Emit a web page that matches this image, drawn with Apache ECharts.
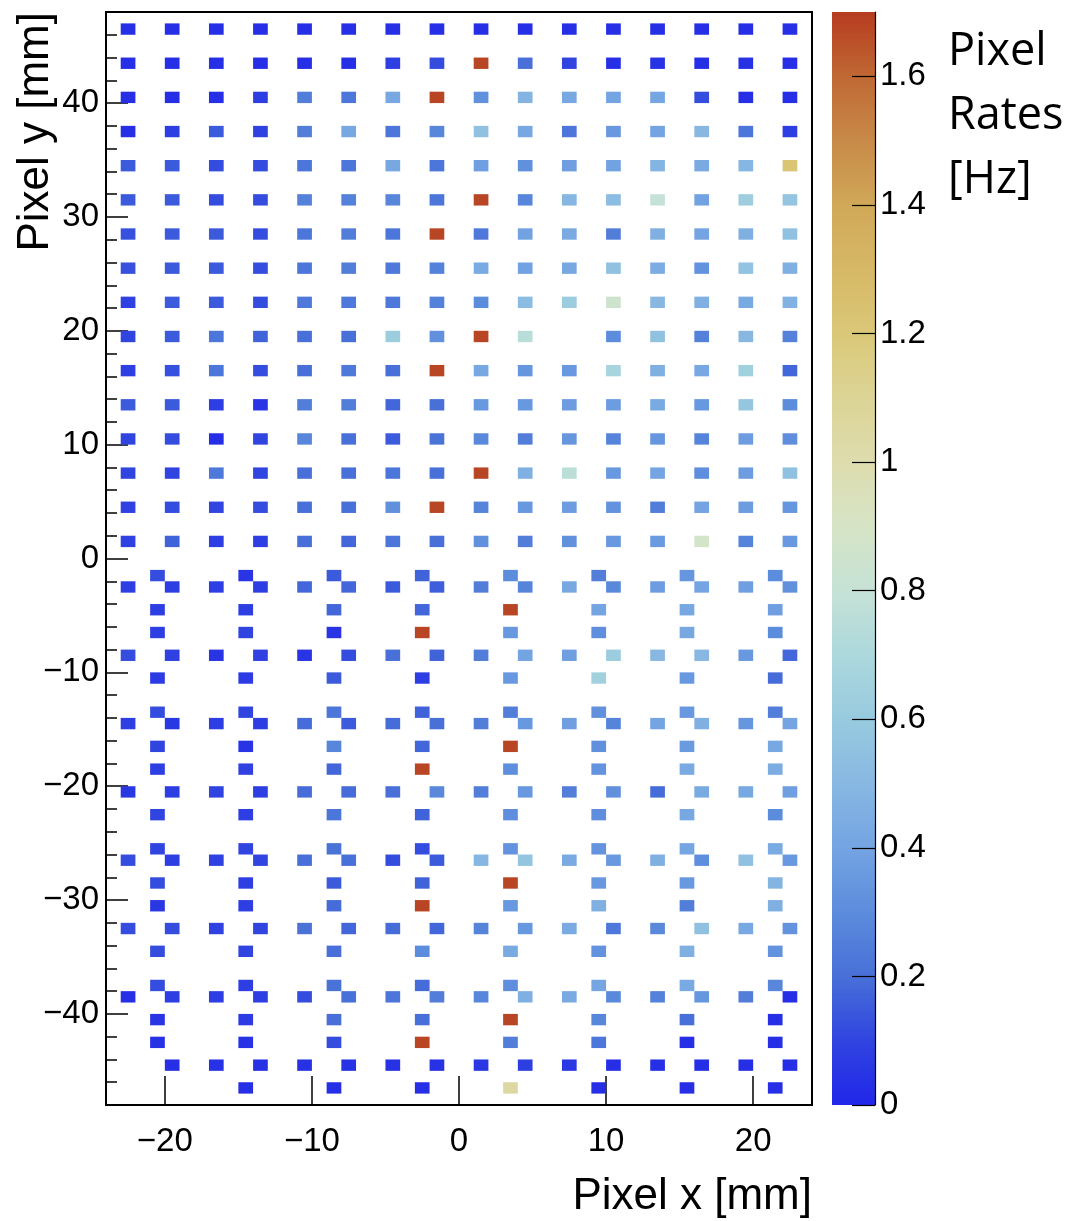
<!DOCTYPE html>
<html>
<head>
<meta charset="utf-8">
<title>Pixel Rates</title>
<script src="https://cdn.jsdelivr.net/npm/echarts@6/dist/echarts.min.js"></script>
<style>
  html, body { margin: 0; padding: 0; background: #ffffff; }
  #chart { width: 1072px; height: 1221px; }
</style>
</head>
<body>
<div id="chart"></div>
<script>
// ---- Pixel centres [mm] ----
// Upper half: regular 3 mm pitch grid
const colsTop = [-22.5, -19.5, -16.5, -13.5, -10.5, -7.5, -4.5, -1.5, 1.5, 4.5, 7.5, 10.5, 13.5, 16.5, 19.5, 22.5];
const rowsTop = [46.5, 43.5, 40.5, 37.5, 34.5, 31.5, 28.5, 25.5, 22.5, 19.5, 16.5, 13.5, 10.5, 7.5, 4.5, 1.5];

// Lower half: two row layouts (A = sparse 6 mm pitch, B = full 3 mm pitch)
const colsA = [-20.5, -14.5, -8.5, -2.5, 3.5, 9.5, 15.5, 21.5];
const colsB = [-22.5, -19.5, -16.5, -13.5, -10.5, -7.5, -4.5, -1.5, 1.5, 4.5, 7.5, 10.5, 13.5, 16.5, 19.5, 22.5];
const rowsBottom = [-1.5, -2.5, -4.5, -6.5, -8.5, -10.5,
                    -13.5, -14.5, -16.5, -18.5, -20.5, -22.5,
                    -25.5, -26.5, -28.5, -30.5, -32.5, -34.5,
                    -37.5, -38.5, -40.5, -42.5, -44.5, -46.5];
const rowLayoutBottom = ['A', 'B', 'A', 'A', 'B', 'A',
                         'A', 'B', 'A', 'A', 'B', 'A',
                         'A', 'B', 'A', 'A', 'B', 'A',
                         'A', 'B', 'A', 'A', 'B', 'A'];

// ---- Pixel rates [Hz] (null = no entry) ----
const ratesTop = [
  [0.03, 0.03, 0.03, 0.03, 0.03, 0.03, 0.03, 0.03, 0.03, 0.03, 0.03, 0.03, 0.03, 0.03, 0.03, 0.03],
  [0.03, 0.03, 0.03, 0.03, 0.03, 0.03, 0.08, 0.12, 1.68, 0.20, 0.10, 0.03, 0.04, 0.03, 0.04, 0.03],
  [0.03, 0.03, 0.03, 0.08, 0.25, 0.22, 0.42, 1.68, 0.32, 0.48, 0.42, 0.40, 0.41, 0.12, 0.03, 0.03],
  [0.03, 0.08, 0.15, 0.09, 0.25, 0.42, 0.22, 0.28, 0.55, 0.42, 0.22, 0.35, 0.40, 0.50, 0.22, 0.08],
  [0.15, 0.15, 0.12, 0.12, 0.22, 0.22, 0.42, 0.22, 0.38, 0.32, 0.38, 0.39, 0.48, 0.43, 0.49, 1.22],
  [0.15, 0.15, 0.12, 0.12, 0.26, 0.26, 0.28, 0.22, 1.68, 0.28, 0.49, 0.52, 0.80, 0.39, 0.63, 0.57],
  [0.13, 0.15, 0.15, 0.12, 0.22, 0.25, 0.22, 1.68, 0.23, 0.39, 0.43, 0.25, 0.46, 0.40, 0.46, 0.55],
  [0.13, 0.15, 0.15, 0.12, 0.22, 0.25, 0.23, 0.26, 0.43, 0.39, 0.42, 0.55, 0.44, 0.33, 0.56, 0.46],
  [0.09, 0.15, 0.15, 0.12, 0.23, 0.23, 0.23, 0.26, 0.30, 0.52, 0.62, 0.85, 0.50, 0.46, 0.43, 0.47],
  [0.10, 0.15, 0.22, 0.17, 0.20, 0.20, 0.62, 0.32, 1.68, 0.75, null, 0.30, 0.55, 0.26, 0.50, 0.26],
  [0.08, 0.13, 0.22, 0.12, 0.20, 0.23, 0.20, 1.68, 0.42, 0.34, 0.35, 0.68, 0.46, 0.42, 0.65, 0.18],
  [0.15, 0.15, 0.08, 0.05, 0.25, 0.25, 0.18, 0.20, 0.35, 0.35, 0.37, 0.37, 0.43, 0.35, 0.58, 0.30],
  [0.10, 0.12, 0.03, 0.10, 0.28, 0.20, 0.15, 0.21, 0.29, 0.25, 0.34, 0.27, 0.34, 0.27, 0.37, 0.31],
  [0.10, 0.10, 0.23, 0.10, 0.20, 0.20, 0.22, 0.20, 1.68, 0.46, 0.76, 0.35, 0.40, 0.31, 0.37, 0.55],
  [0.09, 0.12, 0.10, 0.12, 0.20, 0.20, 0.32, 1.68, 0.27, 0.35, 0.37, 0.33, 0.25, 0.40, 0.37, 0.34],
  [0.09, 0.17, 0.08, 0.08, 0.20, 0.18, 0.22, 0.20, 0.32, 0.25, 0.32, 0.35, 0.36, 0.88, 0.27, 0.35]
];

const ratesBottom = [
  [0.12, 0.05, 0.15, 0.17, 0.30, 0.25, 0.34, 0.30],
  [0.08, 0.08, 0.08, 0.08, 0.18, 0.18, 0.15, 0.16, 0.25, 0.27, 0.42, 0.29, 0.37, 0.40, 0.38, 0.32],
  [0.08, 0.08, 0.18, 0.18, 1.68, 0.40, 0.42, 0.38],
  [0.08, 0.10, 0.05, 1.68, 0.35, 0.31, 0.42, 0.30],
  [0.12, 0.09, 0.05, 0.09, 0.05, 0.12, 0.20, 0.17, 0.25, 0.40, 0.38, 0.62, 0.50, 0.50, 0.35, 0.18],
  [0.07, 0.07, 0.15, 0.08, 0.35, 0.65, 0.35, 0.19],
  [0.12, 0.10, 0.22, 0.17, 0.25, 0.32, 0.35, 0.25],
  [0.08, 0.06, 0.08, 0.08, 0.19, 0.15, 0.19, 0.20, 0.25, 0.35, 0.38, 0.27, 0.40, 0.46, 0.34, 0.40],
  [0.10, 0.05, 0.28, 0.18, 1.68, 0.32, 0.36, 0.42],
  [0.08, 0.09, 0.18, 1.68, 0.31, 0.33, 0.43, 0.44],
  [0.06, 0.08, 0.10, 0.08, 0.19, 0.19, 0.20, 0.29, 0.25, 0.35, 0.25, 0.32, 0.19, 0.43, 0.42, 0.38],
  [0.10, 0.08, 0.22, 0.17, 0.31, 0.31, 0.42, 0.30],
  [0.10, 0.10, 0.21, 0.12, 0.33, 0.33, 0.41, 0.43],
  [0.12, 0.08, 0.09, 0.10, 0.20, 0.20, 0.12, 0.15, 0.49, 0.57, 0.43, 0.35, 0.46, 0.31, 0.55, 0.35],
  [0.12, 0.08, 0.15, 0.17, 1.68, 0.35, 0.35, 0.48],
  [0.06, 0.08, 0.19, 1.68, 0.35, 0.46, 0.25, 0.46],
  [0.12, 0.12, 0.09, 0.10, 0.21, 0.18, 0.19, 0.18, 0.27, 0.35, 0.43, 0.23, 0.29, 0.55, 0.42, 0.33],
  [0.12, 0.10, 0.20, 0.30, 0.43, 0.33, 0.46, 0.33],
  [0.12, 0.08, 0.21, 0.19, 0.31, 0.41, 0.43, 0.28],
  [0.03, 0.08, 0.08, 0.08, 0.12, 0.20, 0.22, 0.25, 0.28, 0.46, 0.43, 0.29, 0.26, 0.34, 0.25, 0.03],
  [0.05, 0.07, 0.20, 0.20, 1.68, 0.28, 0.20, 0.03],
  [0.04, 0.04, 0.12, 1.68, 0.25, 0.22, 0.03, 0.03],
  [null, 0.03, 0.04, 0.04, 0.04, 0.04, 0.04, 0.04, 0.06, 0.08, 0.06, 0.03, 0.03, 0.03, 0.03, 0.03],
  [null, 0.03, 0.03, 0.03, 1.05, 0.03, 0.03, 0.03]
];

// ---- Axis ticks ----
const xTicks = [-20, -10, 0, 10, 20];
const yTicks = [-40, -30, -20, -10, 0, 10, 20, 30, 40];
const yMinorTicks = [-46, -44, -42, -38, -36, -34, -32, -28, -26, -24, -22, -18, -16, -14, -12, -8, -6, -4, -2,
                     2, 4, 6, 8, 12, 14, 16, 18, 22, 24, 26, 28, 32, 34, 36, 38, 42, 44, 46];
const rateTicks = [0, 0.2, 0.4, 0.6, 0.8, 1, 1.2, 1.4, 1.6];

// ---- Colour scale (0 .. RATE_MAX in equal steps of 0.1 Hz) ----
const RATE_MAX = 1.7;
const palette = ['#2126e9', '#3044e0', '#4870d8', '#5c8cdc', '#74a4e2', '#88b8e2',
                 '#98cadf', '#acd8dc', '#c6e2d6', '#d6e4c6', '#dedcae', '#dcd496',
                 '#dac878', '#d6b866', '#d0a858', '#c88a48', '#c06834', '#b63c20'];

const BIN_HALF = 0.5;   // pixel bins are 1 mm wide
const FONT = '"Liberation Sans", Arial, Helvetica, sans-serif';
const minusSign = v => String(v).replace('-', '\u2212');

// Flatten the pixel tables into [x, y, rate] triples
const pixels = [];
rowsTop.forEach((y, r) => {
  colsTop.forEach((x, c) => {
    const v = ratesTop[r][c];
    if (v != null) pixels.push([x, y, v]);
  });
});
rowsBottom.forEach((y, r) => {
  const cols = rowLayoutBottom[r] === 'A' ? colsA : colsB;
  cols.forEach((x, c) => {
    const v = ratesBottom[r][c];
    if (v != null) pixels.push([x, y, v]);
  });
});

const tickLine = { color: '#000', width: 1.5 };
const labelStyle = { color: '#000', fontSize: 33, fontFamily: FONT };

const chart = echarts.init(document.getElementById('chart'), null, { renderer: 'canvas' });

chart.setOption({
  animation: false,
  backgroundColor: '#ffffff',
  grid: [
    { left: 106, top: 12, width: 706, height: 1093, show: true, borderColor: '#000', borderWidth: 2,
      backgroundColor: 'transparent', outerBoundsMode: 'none', containLabel: false },
    { left: 832, top: 12, width: 43, height: 1093, outerBoundsMode: 'none', containLabel: false }
  ],
  xAxis: [
    {
      gridIndex: 0, type: 'value', position: 'bottom', min: -24, max: 24,
      splitLine: { show: false },
      axisLine: { show: false, onZero: false },
      axisTick: { show: true, inside: true, length: 29, lineStyle: tickLine, customValues: xTicks },
      axisLabel: Object.assign({ customValues: xTicks, formatter: minusSign, margin: 20 }, labelStyle)
    },
    { gridIndex: 1, type: 'value', min: 0, max: 1, show: false, axisLine: { onZero: false } }
  ],
  yAxis: [
    {
      gridIndex: 0, type: 'value', position: 'left', min: -48, max: 48,
      splitLine: { show: false },
      axisLine: { show: false, onZero: false },
      axisTick: { show: true, inside: true, length: 22, lineStyle: tickLine, customValues: yTicks },
      axisLabel: Object.assign({ customValues: yTicks, formatter: minusSign, margin: 7 }, labelStyle)
    },
    {
      gridIndex: 0, type: 'value', position: 'left', offset: 0, min: -48, max: 48,
      splitLine: { show: false },
      axisLine: { show: false, onZero: false },
      axisTick: { show: true, inside: true, length: 11, lineStyle: tickLine, customValues: yMinorTicks },
      axisLabel: { show: false }
    },
    {
      // colour-scale axis, drawn above the gradient so its ticks stay visible
      gridIndex: 1, type: 'value', position: 'right', min: 0, max: RATE_MAX, z: 10,
      splitLine: { show: false },
      axisLine: { show: true, onZero: false, lineStyle: { color: '#000', width: 1.2 } },
      axisTick: { show: true, inside: true, length: 23, lineStyle: { color: '#000', width: 1.2 }, customValues: rateTicks },
      axisLabel: Object.assign({ customValues: rateTicks, margin: 5 }, labelStyle)
    }
  ],
  visualMap: {
    type: 'continuous', show: false, seriesIndex: 0, dimension: 2,
    min: 0, max: RATE_MAX,
    inRange: { color: palette }
  },
  series: [
    {
      name: 'Pixel rates',
      type: 'custom',
      xAxisIndex: 0, yAxisIndex: 0,
      encode: { x: 0, y: 1 },
      data: pixels,
      silent: true,
      clip: true,
      renderItem: function (params, api) {
        const x = api.value(0), y = api.value(1);
        const a = api.coord([x - BIN_HALF, y + BIN_HALF]);
        const b = api.coord([x + BIN_HALF, y - BIN_HALF]);
        return {
          type: 'rect',
          shape: { x: a[0], y: a[1], width: b[0] - a[0], height: b[1] - a[1] },
          style: { fill: api.visual('color') }
        };
      }
    },
    {
      name: 'Colour scale',
      type: 'custom',
      xAxisIndex: 1, yAxisIndex: 2,
      data: [[0, RATE_MAX]],
      silent: true,
      z: 1,
      renderItem: function (params, api) {
        const a = api.coord([0, api.value(1)]);
        const b = api.coord([1, 0]);
        return {
          type: 'rect',
          shape: { x: a[0], y: a[1], width: b[0] - a[0], height: b[1] - a[1] },
          style: {
            fill: {
              type: 'linear', x: 0, y: 1, x2: 0, y2: 0,
              colorStops: palette.map((c, i) => ({ offset: i / (palette.length - 1), color: c }))
            }
          }
        };
      }
    }
  ],
  graphic: [
    {
      type: 'text', x: 36, y: 12, rotation: Math.PI / 2,
      style: {
        text: 'Pixel y [mm]', fill: '#000', font: '44px ' + FONT,
        align: 'right', verticalAlign: 'middle', textAlign: 'right', textVerticalAlign: 'middle'
      }
    },
    {
      type: 'text', x: 812, y: 1197,
      style: {
        text: 'Pixel x [mm]', fill: '#000', font: '44px ' + FONT,
        align: 'right', verticalAlign: 'middle', textAlign: 'right', textVerticalAlign: 'middle'
      }
    },
    {
      type: 'text', x: 948, y: 20,
      style: {
        text: 'Pixel\nRates\n[Hz]', fill: '#000', font: '45px "Open Sans", Lato, sans-serif',
        lineHeight: 64, align: 'left', verticalAlign: 'top', textAlign: 'left', textVerticalAlign: 'top'
      }
    }
  ]
});
</script>
</body>
</html>
